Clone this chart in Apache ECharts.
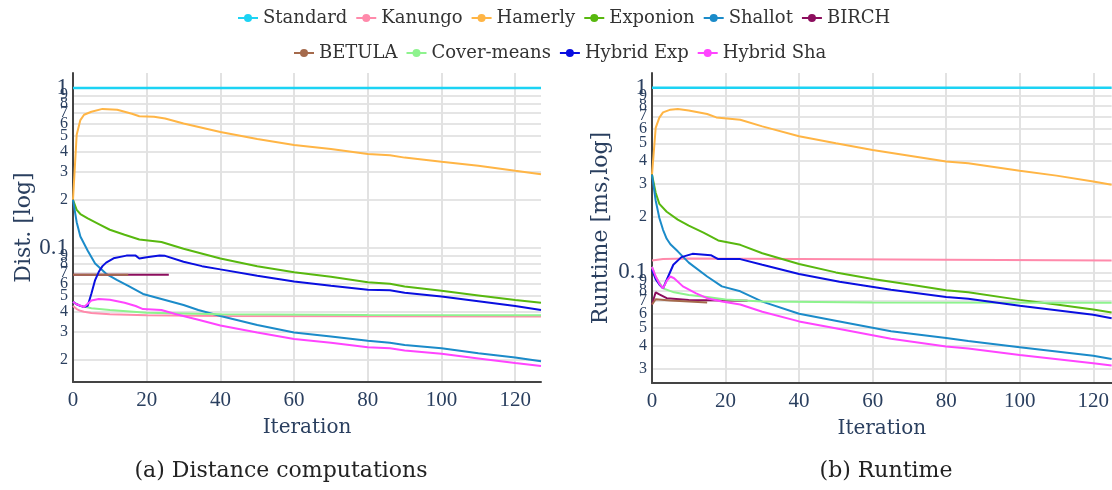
<!DOCTYPE html>
<html><head><meta charset="utf-8">
<script src="https://cdn.jsdelivr.net/npm/echarts@6/dist/echarts.min.js"></script>
<style>html,body{margin:0;padding:0;background:#fff}#c{width:1112px;height:490px}</style>
</head><body><div id="c"></div>
<script>
const seriesNames = ['Standard','Kanungo','Hamerly','Exponion','Shallot','BIRCH','BETULA','Cover-means','Hybrid Exp','Hybrid Sha'];
const legendRow1 = ['Standard','Kanungo','Hamerly','Exponion','Shallot','BIRCH'];
const legendRow2 = ['BETULA','Cover-means','Hybrid Exp','Hybrid Sha'];
const seriesColors = ['#1cd3f4','#ff8aab','#ffb545','#58b80f','#1b8bc9','#8c0e5e','#a56a4c','#8ef38e','#0a0fe0','#ff44ff'];

const xTicks = [0,20,40,60,80,100,120];
const distYTicks = [0.02,0.03,0.04,0.05,0.06,0.07,0.08,0.09,0.1,0.2,0.3,0.4,0.5,0.6,0.7,0.8,0.9,1];
const runYTicks = [0.03,0.04,0.05,0.06,0.07,0.08,0.09,0.1,0.2,0.3,0.4,0.5,0.6,0.7,0.8,0.9,1];

// Distance computations (relative), [iteration, value]
const distStandard = [[0,1],[127,1]];
const distKanungo = [[0,0.0434],[1,0.0415],[2,0.0405],[3,0.040],[5,0.0393],[10,0.0385],[20,0.038],[40,0.0376],[80,0.0374],[127,0.0373]];
const distHamerly = [[0,0.2],[1,0.51],[2,0.63],[3,0.68],[5,0.71],[8,0.74],[12,0.73],[16,0.69],[18,0.665],[22,0.66],[25,0.645],[30,0.60],[40,0.53],[50,0.48],[60,0.44],[70,0.416],[80,0.387],[86,0.38],[90,0.367],[100,0.346],[110,0.327],[120,0.304],[127,0.289]];
const distExponion = [[0,0.2],[1,0.173],[2,0.163],[4,0.153],[7,0.141],[10,0.13],[14,0.121],[18,0.113],[24,0.109],[30,0.099],[40,0.086],[50,0.077],[60,0.0705],[70,0.066],[80,0.061],[86,0.0598],[90,0.0575],[100,0.054],[110,0.0505],[120,0.0473],[127,0.0454]];
const distShallot = [[0,0.2],[1,0.145],[2,0.118],[4,0.096],[6,0.08],[9,0.069],[12,0.063],[15,0.058],[19,0.0516],[24,0.048],[30,0.044],[34,0.041],[40,0.0376],[50,0.033],[60,0.0296],[70,0.028],[80,0.0263],[86,0.0256],[90,0.0248],[100,0.0236],[110,0.022],[120,0.0207],[127,0.0196]];
const distBIRCH = [[0,0.068],[26,0.068]];
const distBETULA = [[0,0.068],[15,0.068]];
const distCover = [[0,0.046],[1,0.0445],[2,0.0435],[3,0.043],[5,0.042],[10,0.041],[20,0.0394],[40,0.0385],[80,0.0381],[127,0.038]];
const distHybridExp = [[0,0.046],[1,0.0445],[2,0.0435],[3,0.0428],[4,0.0435],[5,0.052],[6,0.063],[7,0.071],[8,0.077],[9,0.081],[11,0.0862],[14.5,0.0896],[17,0.0896],[18,0.086],[20,0.0875],[23.5,0.0896],[25,0.0893],[30,0.082],[35,0.077],[40,0.0735],[50,0.067],[60,0.0618],[70,0.058],[80,0.0548],[86,0.0545],[90,0.0525],[100,0.0497],[110,0.0465],[120,0.0434],[127,0.041]];
const distHybridSha = [[0,0.046],[1,0.0445],[3,0.0428],[5,0.047],[7,0.048],[10,0.0475],[14,0.0455],[17,0.0434],[19,0.0415],[24,0.041],[28,0.0385],[34,0.0356],[40,0.0328],[50,0.0296],[60,0.027],[70,0.0256],[80,0.024],[86,0.0236],[90,0.0229],[100,0.0218],[110,0.0204],[120,0.0191],[127,0.0183]];

// Runtime (relative), [iteration, value]
const runStandard = [[0,1],[125,1]];
const runKanungo = [[0,0.116],[3,0.118],[10,0.119],[40,0.118],[80,0.117],[125,0.116]];
const runHamerly = [[0,0.338],[1,0.605],[2,0.688],[3,0.735],[5,0.76],[7,0.767],[10,0.753],[15,0.72],[17.5,0.69],[24,0.67],[30,0.617],[40,0.545],[50,0.5],[60,0.46],[70,0.428],[80,0.398],[86,0.39],[100,0.355],[110,0.334],[120,0.31],[125,0.298]];
const runExponion = [[0,0.338],[1,0.27],[2,0.235],[4,0.213],[7,0.193],[10,0.179],[14,0.164],[18,0.149],[24,0.141],[30,0.127],[40,0.111],[50,0.1],[60,0.092],[70,0.086],[80,0.08],[86,0.078],[100,0.071],[110,0.067],[120,0.063],[125,0.0607]];
const runShallot = [[0,0.338],[1,0.245],[2,0.197],[3,0.17],[4,0.152],[5,0.142],[7,0.13],[10,0.113],[15,0.095],[19,0.084],[24,0.079],[30,0.0695],[40,0.0597],[51,0.0543],[65,0.048],[80,0.0442],[86,0.0425],[100,0.0394],[120,0.0354],[125,0.034]];
const runBIRCH = [[0,0.067],[1,0.078],[2,0.076],[4,0.0725],[10,0.071],[26,0.0702]];
const runBETULA = [[0,0.067],[1,0.0716],[5,0.0705],[15,0.0688]];
const runCover = [[0,0.107],[1,0.095],[2,0.088],[3,0.082],[6,0.078],[10,0.0755],[15,0.0736],[20,0.0714],[30,0.0695],[60,0.0688],[125,0.0686]];
const runHybridExp = [[0,0.1035],[1,0.092],[2,0.086],[3,0.082],[4.4,0.095],[5.8,0.11],[8,0.121],[11,0.126],[16,0.124],[18,0.118],[24,0.118],[30,0.11],[40,0.098],[51,0.089],[65,0.0805],[80,0.0736],[86,0.072],[100,0.066],[120,0.059],[125,0.0565]];
const runHybridSha = [[0,0.107],[1,0.095],[2,0.087],[3,0.082],[4,0.09],[5,0.095],[6,0.093],[8.4,0.084],[12,0.077],[15,0.0725],[19,0.0695],[24,0.067],[30,0.0612],[40,0.0543],[51,0.0494],[65,0.0437],[80,0.0397],[86,0.0387],[100,0.0357],[120,0.0322],[125,0.0313]];

const distSeries = [distStandard,distKanungo,distHamerly,distExponion,distShallot,distBIRCH,distBETULA,distCover,distHybridExp,distHybridSha];
const runSeries = [runStandard,runKanungo,runHamerly,runExponion,runShallot,runBIRCH,runBETULA,runCover,runHybridExp,runHybridSha];

const AX = '#2a3f5f';
const SERIF = "'DejaVu Serif', serif";
const NUM = "'Liberation Serif', serif";
const toLog = arr => arr.map(p => [p[0], Math.log10(p[1])]);
function yFmt(val){
  const v = Math.pow(10, val);
  const e = Math.floor(val + 1e-9);
  const m = Math.round(v / Math.pow(10, e));
  const exact = m * Math.pow(10, e);
  if (Math.abs(exact - v) / v > 1e-6) return '';
  if (m === 1) return '{big|' + parseFloat(v.toPrecision(3)) + '}';
  return '{small|' + m + '}';
}
function xAxisOpt(gi, max){
  return {type:'value', gridIndex:gi, min:0, max:max,
    axisLine:{show:true, onZero:false, lineStyle:{color:'#444', width:2}},
    axisTick:{show:false, customValues:xTicks},
    axisLabel:{customValues:xTicks, color:AX, fontFamily:NUM, fontSize:21, margin:8},
    splitLine:{show:true, lineStyle:{color:'#e2e2e2', width:2}},
    name:'Iteration', nameLocation:'middle', nameGap:36,
    nameTextStyle:{color:AX, fontFamily:SERIF, fontSize:20}};
}
function yAxisOpt(gi, ticks, min, max, name, gap){
  const lo = Math.log10(min), hi = Math.log10(max);
  const tv = ticks.map(t => Math.log10(t));
  const lv = [lo].concat(tv, [hi]);
  return {type:'value', gridIndex:gi, min:lo, max:hi,
    axisLine:{show:true, lineStyle:{color:'#444', width:2}},
    axisTick:{show:false, customValues:tv},
    axisLabel:{customValues:lv, formatter:yFmt, margin:5, color:AX, hideOverlap:false,
      rich:{big:{fontFamily:NUM, fontSize:23, color:AX}, small:{fontFamily:NUM, fontSize:16, color:AX}}},
    splitLine:{show:true, lineStyle:{color:'#dcdcdc', width:1.5}},
    name:name, nameLocation:'middle', nameGap:gap, nameRotate:90,
    nameTextStyle:{color:AX, fontFamily:SERIF, fontSize:22}};
}
const series = [];
seriesNames.forEach((n,i) => {
  series.push({name:n, type:'line', xAxisIndex:0, yAxisIndex:0, data:toLog(distSeries[i]),
    symbol:'circle', symbolSize:8, showSymbol:false, color:seriesColors[i],
    lineStyle:{width: i===0?2.5:2}, z: 2+i});
  series.push({name:n, type:'line', xAxisIndex:1, yAxisIndex:1, data:toLog(runSeries[i]),
    symbol:'circle', symbolSize:8, showSymbol:false, color:seriesColors[i],
    lineStyle:{width: i===0?2.5:2}, z: 2+i});
});
const legendBase = {itemGap:8, itemWidth:20, itemHeight:10,
  textStyle:{color:'#333', fontFamily:SERIF, fontSize:18}};
const option = {
  animation:false,
  backgroundColor:'#fff',
  legend:[Object.assign({top:4, left:232, data:legendRow1}, legendBase), Object.assign({top:39, left:288, data:legendRow2}, legendBase)],
  title:[
    {text:'(a) Distance computations', left:276, top:455, textAlign:'center', textStyle:{fontFamily:SERIF, fontSize:22, fontWeight:'normal', color:'#222'}},
    {text:'(b) Runtime', left:881, top:455, textAlign:'center', textStyle:{fontFamily:SERIF, fontSize:22, fontWeight:'normal', color:'#222'}}
  ],
  grid:[
    {left:73, right:571, top:73, bottom:108},
    {left:652, right:0, top:73, bottom:107}
  ],
  xAxis:[xAxisOpt(0,127), xAxisOpt(1,125)],
  yAxis:[yAxisOpt(0, distYTicks, 0.01454, 1.24, 'Dist. [log]', 36), yAxisOpt(1, runYTicks, 0.0252, 1.2, 'Runtime [ms,log]', 40)],
  series:series
};
const chart = echarts.init(document.getElementById('c'), null, {renderer:'canvas'});
chart.setOption(option);
</script>
</body></html>
